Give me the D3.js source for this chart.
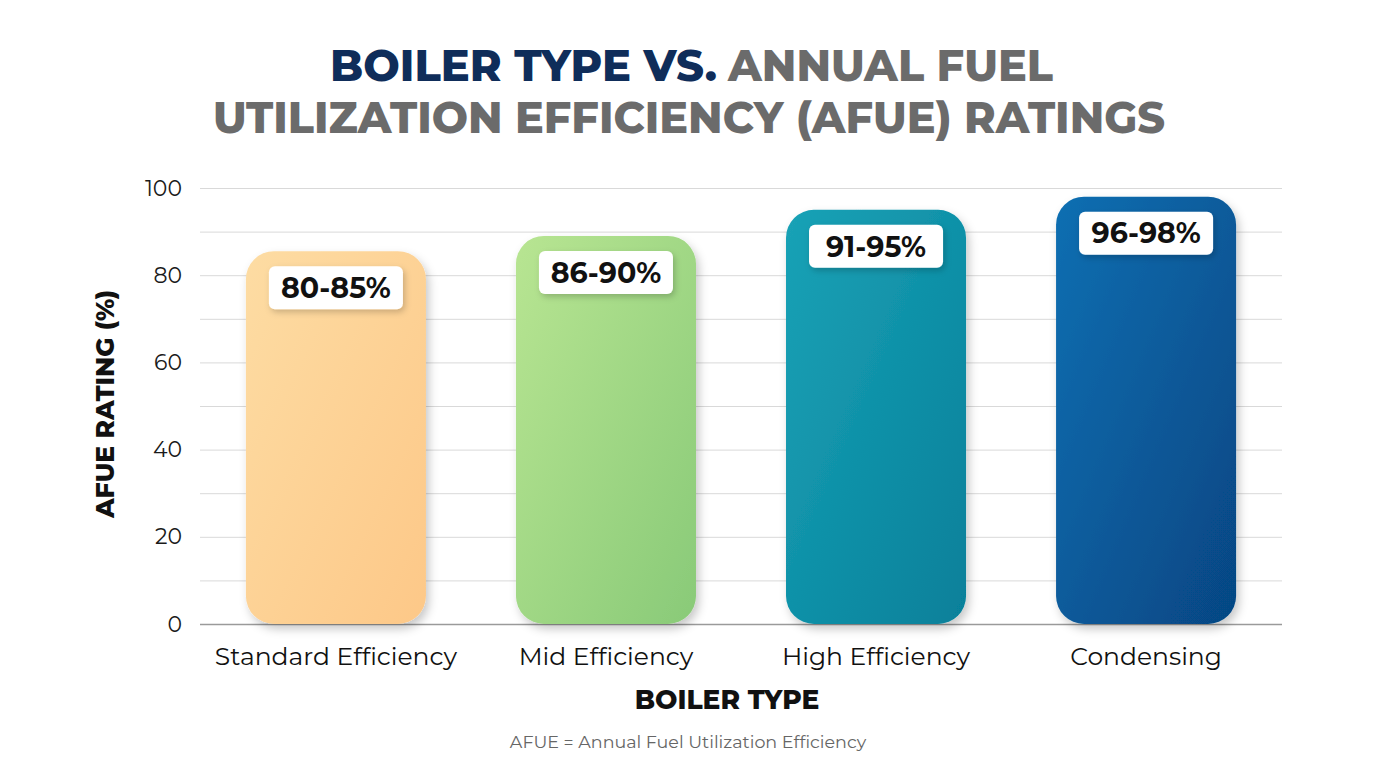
<!DOCTYPE html>
<html>
<head>
<meta charset="utf-8">
<script src="https://cdn.jsdelivr.net/npm/d3@7"></script>
<style>
  body { margin: 0; background: #ffffff; }
  svg { display: block; font-family: "Montserrat", Inter, "Noto Sans", sans-serif; }
</style>
</head>
<body>
<div id="chart"></div>
<script>
// data
const boilerTypes = ['Standard Efficiency', 'Mid Efficiency', 'High Efficiency', 'Condensing'];
const afueValues = [85.5, 89, 95, 98];
const afueLabels = ['80-85%', '86-90%', '91-95%', '96-98%'];
const barColors = [
    ['#fddca3', '#fdc888'],
    ['#b8e592', '#89ca78'],
    ['#1aa2b6', '#06809a'],
    ['#0b6fb2', '#064683']
];
const yTicks = [0, 20, 40, 60, 80, 100];
const gridTicks = d3.range(0, 101, 10);

const W = 1376, H = 768;
const margin = { top: 188, right: 94, bottom: 144, left: 200 };
const width = W - margin.left - margin.right;
const height = H - margin.top - margin.bottom;

const svg = d3.select('#chart').append('svg')
    .attr('width', W)
    .attr('height', H);

const defs = svg.append('defs');

const shadow = defs.append('filter')
    .attr('id', 'shadow')
    .attr('x', '-30%').attr('y', '-30%')
    .attr('width', '160%').attr('height', '160%');
shadow.append('feDropShadow')
    .attr('dx', 3).attr('dy', 5)
    .attr('stdDeviation', 5)
    .attr('flood-color', '#000')
    .attr('flood-opacity', 0.22);

const labelShadow = defs.append('filter')
    .attr('id', 'labelShadow')
    .attr('x', '-30%').attr('y', '-30%')
    .attr('width', '160%').attr('height', '160%');
labelShadow.append('feDropShadow')
    .attr('dx', 2).attr('dy', 3)
    .attr('stdDeviation', 3)
    .attr('flood-color', '#000')
    .attr('flood-opacity', 0.2);

barColors.forEach((c, i) => {
    const g = defs.append('linearGradient')
        .attr('id', `grad${i}`)
        .attr('x1', '0%').attr('y1', '0%')
        .attr('x2', '100%').attr('y2', '100%');
    g.append('stop').attr('offset', '0%').attr('stop-color', c[0]);
    g.append('stop').attr('offset', '100%').attr('stop-color', c[1]);
});

// title
svg.append('text')
    .attr('x', 330).attr('y', 81)
    .attr('textLength', 387).attr('lengthAdjust', 'spacingAndGlyphs')
    .style('font-size', '43px').style('font-weight', 800)
    .attr('fill', '#0f2d5a')
    .text('BOILER TYPE VS.');
svg.append('text')
    .attr('x', 728).attr('y', 81)
    .attr('textLength', 325).attr('lengthAdjust', 'spacingAndGlyphs')
    .style('font-size', '43px').style('font-weight', 800)
    .attr('fill', '#6b6b6b')
    .text('ANNUAL FUEL');
svg.append('text')
    .attr('x', 213).attr('y', 133)
    .attr('textLength', 952).attr('lengthAdjust', 'spacingAndGlyphs')
    .style('font-size', '43px').style('font-weight', 800)
    .attr('fill', '#6b6b6b')
    .text('UTILIZATION EFFICIENCY (AFUE) RATINGS');

const g = svg.append('g')
    .attr('transform', `translate(${margin.left},${margin.top})`);

const x = d3.scaleBand()
    .domain(boilerTypes)
    .range([0, width])
    .paddingInner(1 / 3)
    .paddingOuter(0.17);

const y = d3.scaleLinear()
    .domain([0, 100])
    .range([height, 0]);

// grid
const grid = g.append('g')
    .attr('class', 'grid')
    .call(d3.axisLeft(y).tickValues(gridTicks).tickSize(-width).tickFormat(''));
grid.select('.domain').remove();
grid.selectAll('line')
    .attr('stroke', d => d === 0 ? '#9a9a9a' : '#d9d9d9')
    .attr('stroke-width', d => d === 0 ? 1.5 : 1);

// y axis labels
const yAxis = g.append('g')
    .call(d3.axisLeft(y).tickValues(yTicks).tickSize(0).tickPadding(18));
yAxis.select('.domain').remove();
yAxis.selectAll('text')
    .style('font-size', '22px')
    .style('font-family', '"Montserrat", Inter, sans-serif')
    .attr('fill', '#1a1a1a');

// x axis labels
const xAxis = g.append('g')
    .attr('transform', `translate(0,${height})`)
    .call(d3.axisBottom(x).tickSize(0).tickPadding(23));
xAxis.select('.domain').remove();
xAxis.selectAll('text')
    .style('font-size', '25px')
    .style('font-family', '"Montserrat", Inter, sans-serif')
    .attr('fill', '#111');

// bars
g.selectAll('.bar')
    .data(boilerTypes)
    .enter()
    .append('rect')
    .attr('class', 'bar')
    .attr('x', d => x(d))
    .attr('width', x.bandwidth())
    .attr('y', (d, i) => y(afueValues[i]))
    .attr('height', (d, i) => height - y(afueValues[i]))
    .attr('rx', 28)
    .attr('fill', (d, i) => `url(#grad${i})`)
    .attr('filter', 'url(#shadow)');

// value labels
const boxW = 134, boxH = 43;
const labels = g.selectAll('.value-label')
    .data(boilerTypes)
    .enter()
    .append('g')
    .attr('class', 'value-label')
    .attr('transform', (d, i) => `translate(${x(d) + x.bandwidth() / 2},${y(afueValues[i]) + 15})`);

labels.append('rect')
    .attr('x', -boxW / 2)
    .attr('width', boxW)
    .attr('height', boxH)
    .attr('rx', 6)
    .attr('fill', '#fff')
    .attr('filter', 'url(#labelShadow)');

labels.append('text')
    .attr('y', boxH / 2)
    .attr('dy', '0.36em')
    .attr('text-anchor', 'middle')
    .style('font-size', '28.5px')
    .style('font-weight', 700)
    .attr('fill', '#111')
    .text((d, i) => afueLabels[i]);

// axis titles
svg.append('text')
    .attr('transform', 'rotate(-90)')
    .attr('x', -404)
    .attr('y', 114)
    .attr('text-anchor', 'middle')
    .style('font-size', '25px')
    .style('font-weight', 800)
    .attr('fill', '#111')
    .text('AFUE RATING (%)');

svg.append('text')
    .attr('x', 727)
    .attr('y', 709)
    .attr('text-anchor', 'middle')
    .style('font-size', '26.5px')
    .style('font-weight', 800)
    .attr('fill', '#111')
    .text('BOILER TYPE');

svg.append('text')
    .attr('x', 688)
    .attr('y', 748)
    .attr('text-anchor', 'middle')
    .style('font-size', '17.5px')
    .attr('fill', '#666')
    .text('AFUE = Annual Fuel Utilization Efficiency');
</script>
</body>
</html>
